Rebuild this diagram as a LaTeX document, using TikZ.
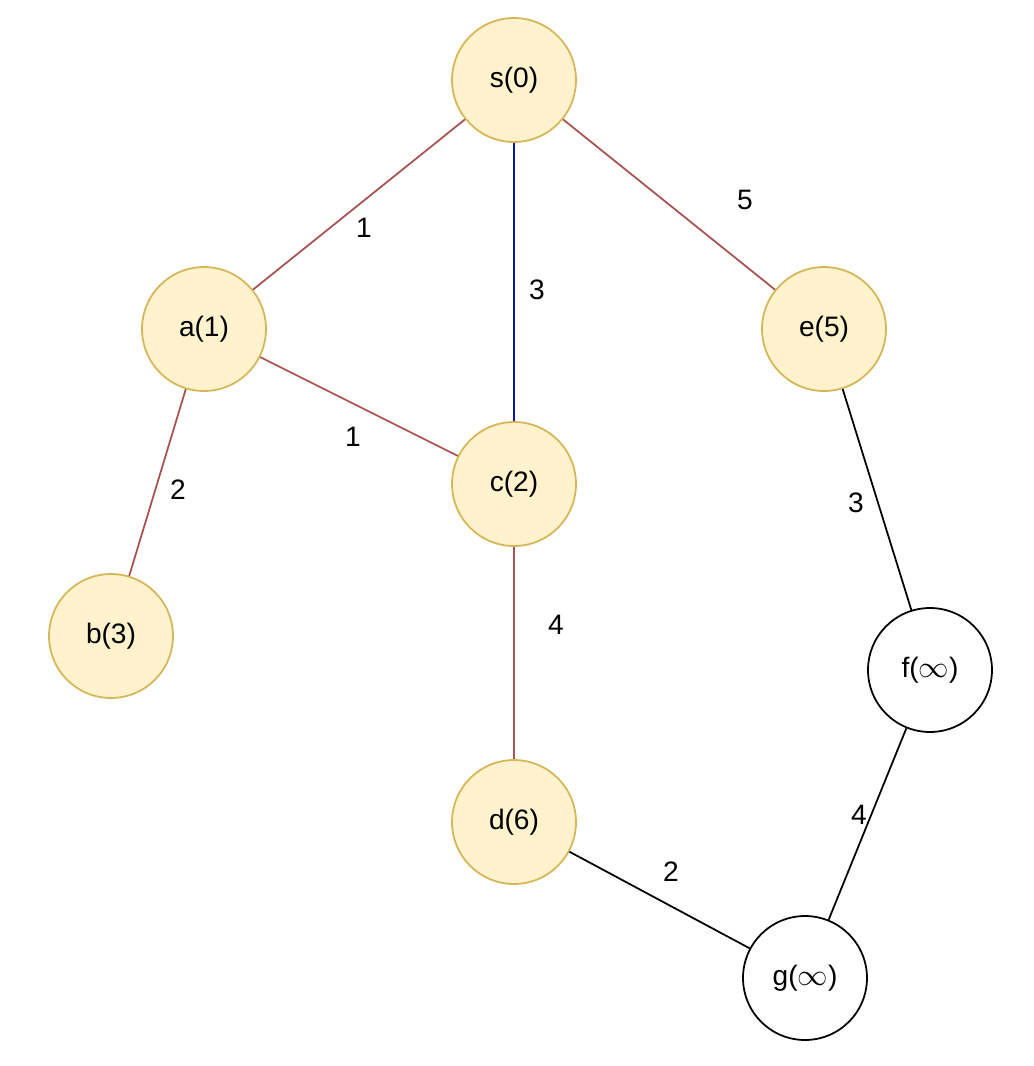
\documentclass[tikz,border=0pt]{standalone}
\usepackage{fontspec}
\setmainfont{Liberation Sans}
\usepackage{tikz}
\usetikzlibrary{arrows}
\definecolor{visitfill}{HTML}{FFF2CC}
\definecolor{visitdraw}{HTML}{D6B656}
\definecolor{treeedge}{HTML}{A8524F}
\definecolor{pathedge}{HTML}{0A14B0}
\begin{document}
\begin{tikzpicture}[
                            x=0.02cm,
                            y=-0.02cm,
                            semithick,
                            every node/.style={font=\fontsize{16}{18}\selectfont}
                        ]
                        \tikzstyle{vertex}=[circle,draw=black,fill=white,minimum size=2.48cm,inner sep=0pt,line width=1pt]
                        \tikzstyle{done}=[vertex,draw=visitdraw,fill=visitfill]
                        \tikzstyle{weight}=[inner sep=0pt]
                        \useasboundingbox (0,0) rectangle (1034,1066);

                        \node[done]   (S) at (514,80)  {s(0)} ;
                        \node[done]   (A) at (204,329) {a(1)} ;
                        \node[done]   (E) at (824,329) {e(5)} ;
                        \node[done]   (C) at (514,484) {c(2)} ;
                        \node[done]   (B) at (111,636) {b(3)} ;
                        \node[vertex] (F) at (930,670) {f($\infty$)} ;
                        \node[done]   (D) at (514,822) {d(6)} ;
                        \node[vertex] (G) at (805,978) {g($\infty$)} ;

                        \node[weight] (wSA) at (364,228) {1} ;
                        \node[weight] (wSC) at (537,290) {3} ;
                        \node[weight] (wSE) at (745,200) {5} ;
                        \node[weight] (wAC) at (353,437) {1} ;
                        \node[weight] (wAB) at (178,490) {2} ;
                        \node[weight] (wCD) at (556,625) {4} ;
                        \node[weight] (wEF) at (856,503) {3} ;
                        \node[weight] (wFG) at (859,815) {4} ;
                        \node[weight] (wDG) at (671,872) {2} ;

                        \path[line width=1pt]
                        (S) edge [treeedge] (A)
                        (S) edge [pathedge] (C)
                        (S) edge [treeedge] (E)
                        (A) edge [treeedge] (C)
                        (A) edge [treeedge] (B)
                        (C) edge [treeedge] (D)
                        (E) edge            (F)
                        (F) edge            (G)
                        (D) edge            (G)
                        ;
                    \end{tikzpicture}
\end{document}
